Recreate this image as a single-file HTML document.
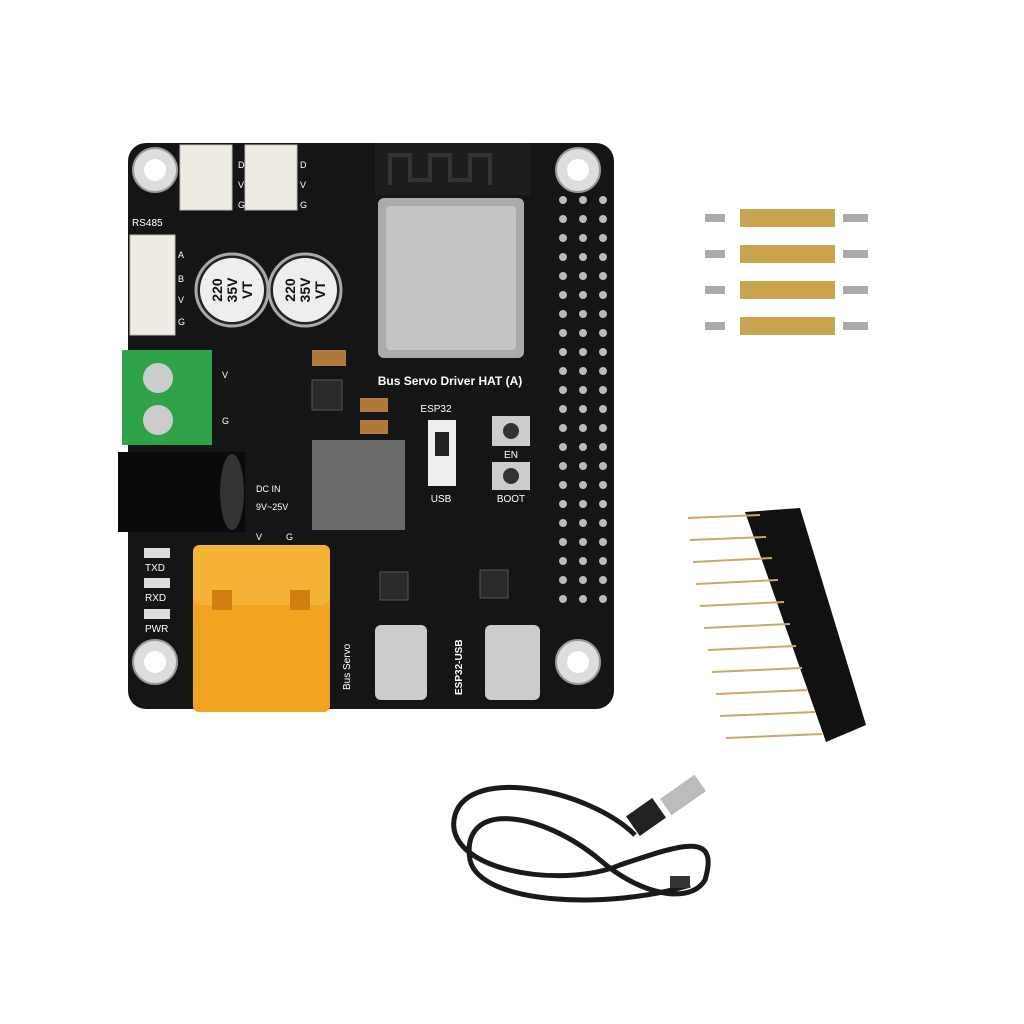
<!DOCTYPE html>
<html><head><meta charset="utf-8"><style>
html,body{margin:0;padding:0;background:#fff;}
svg{display:block;font-family:"Liberation Sans",sans-serif;}
</style></head><body>
<svg width="1024" height="1024" viewBox="0 0 1024 1024">
<rect width="1024" height="1024" fill="#fff"/>
<rect x="128" y="143" width="486" height="566" rx="18" fill="#151515"/>
<g fill="#ddd" stroke="#999" stroke-width="2">
<circle cx="155" cy="170" r="22"/><circle cx="578" cy="170" r="22"/>
<circle cx="155" cy="662" r="22"/><circle cx="578" cy="662" r="22"/>
</g>
<g fill="#fff"><circle cx="155" cy="170" r="11"/><circle cx="578" cy="170" r="11"/><circle cx="155" cy="662" r="11"/><circle cx="578" cy="662" r="11"/></g>
<g fill="#bbb">
<g id="col">
<circle cx="563" cy="200" r="4"/><circle cx="563" cy="219" r="4"/><circle cx="563" cy="238" r="4"/><circle cx="563" cy="257" r="4"/><circle cx="563" cy="276" r="4"/><circle cx="563" cy="295" r="4"/><circle cx="563" cy="314" r="4"/><circle cx="563" cy="333" r="4"/><circle cx="563" cy="352" r="4"/><circle cx="563" cy="371" r="4"/><circle cx="563" cy="390" r="4"/><circle cx="563" cy="409" r="4"/><circle cx="563" cy="428" r="4"/><circle cx="563" cy="447" r="4"/><circle cx="563" cy="466" r="4"/><circle cx="563" cy="485" r="4"/><circle cx="563" cy="504" r="4"/><circle cx="563" cy="523" r="4"/><circle cx="563" cy="542" r="4"/><circle cx="563" cy="561" r="4"/><circle cx="563" cy="580" r="4"/><circle cx="563" cy="599" r="4"/>
</g>
<use href="#col" x="20"/><use href="#col" x="40" y="0"/>
</g>
<rect x="375" y="143" width="155" height="52" fill="#1d1d1d"/>
<path d="M390 185 V155 H410 V180 H430 V155 H450 V180 H470 V155 H490 V185" stroke="#333" stroke-width="4" fill="none"/>
<rect x="378" y="198" width="146" height="160" rx="6" fill="#a9abad"/>
<rect x="386" y="206" width="130" height="144" rx="4" fill="#c3c5c7"/>
<text x="450" y="385" fill="#fff" font-size="12" font-weight="bold" text-anchor="middle">Bus Servo Driver HAT (A)</text>
<text x="436" y="412" fill="#fff" font-size="10" text-anchor="middle">ESP32</text>
<rect x="428" y="420" width="28" height="66" fill="#eee"/><rect x="435" y="432" width="14" height="24" fill="#222"/>
<text x="441" y="502" fill="#fff" font-size="10" text-anchor="middle">USB</text>
<rect x="492" y="416" width="38" height="30" fill="#ccc"/><circle cx="511" cy="431" r="8" fill="#333"/>
<text x="511" y="458" fill="#fff" font-size="10" text-anchor="middle">EN</text>
<rect x="492" y="462" width="38" height="28" fill="#ccc"/><circle cx="511" cy="476" r="8" fill="#333"/>
<text x="511" y="502" fill="#fff" font-size="10" text-anchor="middle">BOOT</text>
<rect x="180" y="145" width="52" height="65" fill="#efece4" stroke="#bbb"/>
<rect x="245" y="145" width="52" height="65" fill="#efece4" stroke="#bbb"/>
<g fill="#fff" font-size="9"><text x="238" y="168">D</text><text x="238" y="188">V</text><text x="238" y="208">G</text>
<text x="300" y="168">D</text><text x="300" y="188">V</text><text x="300" y="208">G</text>
<text x="132" y="226" font-size="10">RS485</text>
<text x="178" y="258">A</text><text x="178" y="282">B</text><text x="178" y="303">V</text><text x="178" y="325">G</text></g>
<rect x="130" y="235" width="45" height="100" fill="#efece4" stroke="#bbb"/>
<circle cx="232" cy="290" r="36" fill="#222" stroke="#aaa" stroke-width="3"/>
<circle cx="305" cy="290" r="36" fill="#222" stroke="#aaa" stroke-width="3"/>
<circle cx="232" cy="290" r="32" fill="#eee"/><circle cx="305" cy="290" r="32" fill="#eee"/>
<g font-size="14" font-weight="bold" fill="#111" text-anchor="middle">
<g transform="rotate(-90 232 290)"><text x="232" y="280">220</text><text x="232" y="295">35V</text><text x="232" y="310">VT</text></g>
<g transform="rotate(-90 305 290)"><text x="305" y="280">220</text><text x="305" y="295">35V</text><text x="305" y="310">VT</text></g>
</g>
<rect x="122" y="350" width="90" height="95" fill="#2fa24a"/>
<circle cx="158" cy="378" r="15" fill="#ccc"/><circle cx="158" cy="420" r="15" fill="#ccc"/>
<text x="222" y="378" fill="#fff" font-size="9">V</text><text x="222" y="424" fill="#fff" font-size="9">G</text>
<rect x="312" y="350" width="34" height="16" fill="#b07a3a"/>
<rect x="360" y="398" width="28" height="14" fill="#b07a3a"/><rect x="360" y="420" width="28" height="14" fill="#b07a3a"/>
<rect x="312" y="380" width="30" height="30" fill="#2a2a2a" stroke="#555"/>
<rect x="118" y="452" width="127" height="80" fill="#0a0a0a"/>
<ellipse cx="232" cy="492" rx="12" ry="38" fill="#333"/>
<text x="256" y="492" fill="#fff" font-size="9">DC IN</text><text x="256" y="510" fill="#fff" font-size="9">9V~25V</text>
<rect x="312" y="440" width="93" height="90" fill="#6a6a6a"/>
<g fill="#fff" font-size="10"><text x="145" y="571">TXD</text><text x="145" y="601">RXD</text><text x="145" y="632">PWR</text>
<text x="256" y="540" font-size="9">V</text><text x="286" y="540" font-size="9">G</text></g>
<g fill="#ddd"><rect x="144" y="548" width="26" height="10"/><rect x="144" y="578" width="26" height="10"/><rect x="144" y="609" width="26" height="10"/></g>
<rect x="193" y="545" width="137" height="167" rx="6" fill="#f0a420"/>
<rect x="193" y="545" width="137" height="60" rx="8" fill="#f5b335"/>
<rect x="212" y="590" width="20" height="20" fill="#d08010"/><rect x="290" y="590" width="20" height="20" fill="#d08010"/>
<rect x="375" y="625" width="52" height="75" rx="6" fill="#ccc"/>
<rect x="485" y="625" width="55" height="75" rx="6" fill="#ccc"/>
<text x="350" y="690" fill="#fff" font-size="10" transform="rotate(-90 350 690)">Bus Servo</text>
<text x="462" y="695" fill="#fff" font-size="10" font-weight="bold" transform="rotate(-90 462 695)">ESP32-USB</text>
<rect x="380" y="572" width="28" height="28" fill="#2a2a2a" stroke="#555"/><rect x="480" y="570" width="28" height="28" fill="#2a2a2a" stroke="#555"/>
<g>
<g id="so"><rect x="705" y="214" width="20" height="8" fill="#aaa"/><rect x="740" y="209" width="95" height="18" fill="#c9a550"/><rect x="843" y="214" width="25" height="8" fill="#aaa"/></g>
<use href="#so" y="36"/><use href="#so" y="72"/><use href="#so" y="108"/>
</g>
<polygon points="745,512 800,508 866,725 826,742" fill="#111"/>
<g stroke="#c9a868" stroke-width="2">
<line x1="688" y1="518" x2="760" y2="515"/><line x1="690" y1="540" x2="766" y2="537"/><line x1="693" y1="562" x2="772" y2="558"/><line x1="696" y1="584" x2="778" y2="580"/><line x1="700" y1="606" x2="784" y2="602"/><line x1="704" y1="628" x2="790" y2="624"/><line x1="708" y1="650" x2="796" y2="646"/><line x1="712" y1="672" x2="802" y2="668"/><line x1="716" y1="694" x2="808" y2="690"/><line x1="720" y1="716" x2="815" y2="712"/><line x1="726" y1="738" x2="822" y2="734"/>
</g>
<g fill="none" stroke="#1a1a1a" stroke-width="5">
<path d="M635 835 C590 790 470 765 455 815 C440 870 560 890 620 865 C680 845 720 830 705 880 C690 905 640 895 600 860 C540 810 460 800 470 860 C480 905 610 910 690 885"/>
</g>
<rect x="630" y="805" width="32" height="24" fill="#222" transform="rotate(-35 646 817)"/>
<rect x="662" y="785" width="42" height="20" fill="#bbb" transform="rotate(-35 683 795)"/>
<rect x="670" y="876" width="20" height="12" fill="#333"/>
</svg>
</body></html>
